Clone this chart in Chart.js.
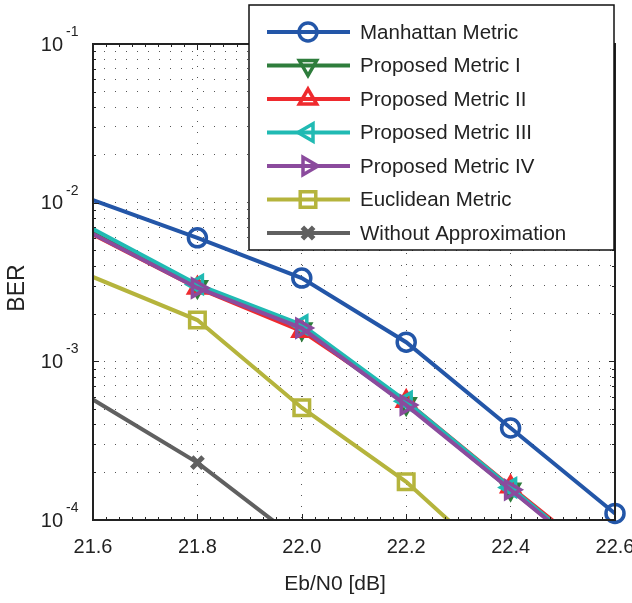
<!DOCTYPE html>
<html>
<head>
<meta charset="utf-8">
<script src="https://cdn.jsdelivr.net/npm/chart.js@4/dist/chart.umd.min.js"></script>
<style>
  html, body { margin: 0; padding: 0; background: #fff; }
</style>
</head>
<body>
<canvas id="chart" width="632" height="603"></canvas>
<script>
// Eb/N0 values (first point sits left of the visible axis, the line enters at 21.6)
const ebn0 = [21.4, 21.8, 22.0, 22.2, 22.4, 22.6];

// BER per curve
const manhattan   = [1.8e-2, 6.0e-3, 3.35e-3, 1.32e-3, 3.8e-4, 1.1e-4];
const proposed1   = [1.41e-2, 2.95e-3, 1.60e-3, 5.4e-4, 1.56e-4, 4.6e-5];
const proposed2   = [1.37e-2, 2.90e-3, 1.55e-3, 5.6e-4, 1.62e-4, 4.8e-5];
const proposed3   = [1.53e-2, 3.05e-3, 1.70e-3, 5.6e-4, 1.60e-4, 4.6e-5];
const proposed4   = [1.39e-2, 2.90e-3, 1.62e-3, 5.3e-4, 1.55e-4, 4.5e-5];
const euclidean   = [6.35e-3, 1.82e-3, 5.1e-4, 1.74e-4, 4.4e-5, null];
const withoutApx  = [1.43e-3, 2.3e-4, 7.2e-5, null, null, null];

const seriesNames = ["Manhattan Metric", "Proposed Metric I", "Proposed Metric II",
  "Proposed Metric III", "Proposed Metric IV", "Euclidean Metric", "Without Approximation"];

// axis ticks
const xTicks = [21.6, 21.8, 22.0, 22.2, 22.4, 22.6];
const yDecades = [-4, -3, -2, -1];

const FONT = '"Liberation Sans", Arial, sans-serif';

// marker look for each curve
const styles = [
  { color: "#2356a8", shape: "circle",   rot: 0,   r: 9 },
  { color: "#2e7d3c", shape: "triangle", rot: 180, r: 10 },
  { color: "#ef2a2e", shape: "triangle", rot: 0,   r: 10 },
  { color: "#20bab3", shape: "triangle", rot: -90, r: 10 },
  { color: "#8b4b9d", shape: "triangle", rot: 90,  r: 10 },
  { color: "#b5b43c", shape: "rect",     rot: 0,   r: 11 },
  { color: "#606060", shape: "crossRot", rot: 0,   r: 8 }
];
const seriesData = [manhattan, proposed1, proposed2, proposed3, proposed4, euclidean, withoutApx];

const datasets = seriesData.map((vals, i) => {
  const s = styles[i];
  return {
    label: seriesNames[i],
    data: vals.map((v, k) => ({ x: ebn0[k], y: v })),
    borderColor: s.color,
    backgroundColor: "rgba(0,0,0,0)",
    borderWidth: 4,
    pointStyle: s.shape,
    pointRotation: s.rot,
    pointRadius: s.r,
    pointBorderWidth: s.shape === "crossRot" ? 5 : 3.5,
    pointBorderColor: s.color,
    pointBackgroundColor: "rgba(0,0,0,0)",
    tension: 0,
    order: 7 - i,
    clip: i === 0 ? { left: 0, top: 0, right: 14, bottom: 14 } : 0
  };
});

// draw a marker for the legend
function drawMarker(ctx, s, x, y) {
  ctx.save();
  ctx.strokeStyle = s.color;
  ctx.lineWidth = s.shape === "crossRot" ? 5 : 3.5;
  ctx.beginPath();
  if (s.shape === "circle") {
    ctx.arc(x, y, s.r, 0, Math.PI * 2);
  } else if (s.shape === "triangle") {
    let rad = s.rot * Math.PI / 180;
    for (let k = 0; k < 3; k++) {
      const px = x + Math.sin(rad) * s.r, py = y - Math.cos(rad) * s.r;
      if (k === 0) ctx.moveTo(px, py); else ctx.lineTo(px, py);
      rad += 2 * Math.PI / 3;
    }
    ctx.closePath();
  } else if (s.shape === "rect") {
    const h = s.r * Math.SQRT1_2;
    ctx.rect(x - h, y - h, 2 * h, 2 * h);
  } else {
    const h = s.r * Math.SQRT1_2;
    ctx.moveTo(x - h, y - h); ctx.lineTo(x + h, y + h);
    ctx.moveTo(x + h, y - h); ctx.lineTo(x - h, y + h);
  }
  ctx.stroke();
  ctx.restore();
}

// frame, ticks, labels and the legend box, MATLAB style
const decorPlugin = {
  id: "decor",
  afterDraw(chart) {
    const ctx = chart.ctx;
    const a = chart.chartArea;
    const xs = chart.scales.x, ys = chart.scales.y;
    ctx.save();

    // tick marks inside the box
    ctx.strokeStyle = "#222";
    ctx.lineWidth = 1;
    ctx.beginPath();
    yDecades.forEach(d => {
      for (let m = 1; m <= 9; m++) {
        const v = m * Math.pow(10, d);
        if (v > 0.1 + 1e-12) break;
        const py = Math.round(ys.getPixelForValue(v)) + 0.5;
        const len = m === 1 ? 6 : 3;
        ctx.moveTo(a.left, py); ctx.lineTo(a.left + len, py);
        ctx.moveTo(a.right, py); ctx.lineTo(a.right - len, py);
      }
    });
    for (let v = 21.6; v <= 22.6 + 1e-9; v += 0.025) {
      const px = Math.round(xs.getPixelForValue(v)) + 0.5;
      const major = Math.abs(v * 5 - Math.round(v * 5)) < 1e-6;
      const len = major ? 6 : 3;
      ctx.moveTo(px, a.bottom); ctx.lineTo(px, a.bottom - len);
      ctx.moveTo(px, a.top); ctx.lineTo(px, a.top + len);
    }
    ctx.stroke();

    // box
    ctx.lineWidth = 2;
    ctx.strokeStyle = "#222";
    ctx.strokeRect(a.left, a.top, a.right - a.left, a.bottom - a.top);

    // tick labels
    ctx.fillStyle = "#222";
    ctx.textBaseline = "middle";
    yDecades.forEach(d => {
      const py = ys.getPixelForValue(Math.pow(10, d));
      ctx.font = "20px " + FONT;
      ctx.textAlign = "right";
      ctx.fillText("10", 63, py + 1);
      ctx.font = "14px " + FONT;
      ctx.textAlign = "left";
      ctx.fillText(String(d), 66, py - 12);
    });
    ctx.font = "20px " + FONT;
    ctx.textAlign = "center";
    xTicks.forEach(v => {
      ctx.fillText(v.toFixed(1), xs.getPixelForValue(v), 547);
    });

    // axis titles
    ctx.font = "21px " + FONT;
    ctx.fillText("Eb/N0 [dB]", 335, 584);
    ctx.save();
    ctx.translate(18, 288);
    ctx.rotate(-Math.PI / 2);
    ctx.font = "23px " + FONT;
    ctx.fillText("BER", 0, 0);
    ctx.restore();

    // legend
    const lx = 249, ly = 5, lw = 365, lh = 245;
    ctx.fillStyle = "#fff";
    ctx.fillRect(lx, ly, lw, lh);
    ctx.lineWidth = 1.5;
    ctx.strokeStyle = "#111";
    ctx.strokeRect(lx, ly, lw, lh);
    seriesNames.forEach((name, i) => {
      const y = 32 + i * 33.5;
      const s = styles[i];
      ctx.strokeStyle = s.color;
      ctx.lineWidth = 4;
      ctx.beginPath();
      ctx.moveTo(267, y); ctx.lineTo(350, y);
      ctx.stroke();
      drawMarker(ctx, s, 308, y);
      ctx.fillStyle = "#222";
      ctx.font = "20.5px " + FONT;
      ctx.textAlign = "left";
      ctx.fillText(name, 360, y + 1);
    });

    ctx.restore();
  }
};

// every 1..9 x 10^k position for the dotted horizontal grid
function logGridTicks() {
  const t = [];
  yDecades.forEach(d => {
    for (let m = 1; m <= 9; m++) {
      const v = m * Math.pow(10, d);
      if (v <= 0.1 + 1e-12) t.push({ value: v });
    }
  });
  return t;
}

new Chart(document.getElementById("chart"), {
  type: "line",
  data: { datasets: datasets },
  options: {
    responsive: false,
    animation: false,
    events: [],
    layout: { padding: { top: 44, right: 17, bottom: 0, left: 0 } },
    plugins: { legend: { display: false }, tooltip: { enabled: false } },
    scales: {
      x: {
        type: "linear",
        min: 21.6,
        max: 22.6,
        afterBuildTicks: s => { s.ticks = xTicks.map(v => ({ value: v })); },
        afterFit: s => { s.height = 83; },
        ticks: { display: false },
        border: { display: false, dash: [1, 10] },
        grid: { color: "#555", lineWidth: 1, drawTicks: false }
      },
      y: {
        type: "logarithmic",
        min: 1e-4,
        max: 1e-1,
        afterBuildTicks: s => { s.ticks = logGridTicks(); },
        afterFit: s => { s.width = 93; },
        ticks: { display: false },
        border: { display: false, dash: [1, 10] },
        grid: { color: "#555", lineWidth: 1, drawTicks: false }
      }
    }
  },
  plugins: [decorPlugin]
});
</script>
</body>
</html>
